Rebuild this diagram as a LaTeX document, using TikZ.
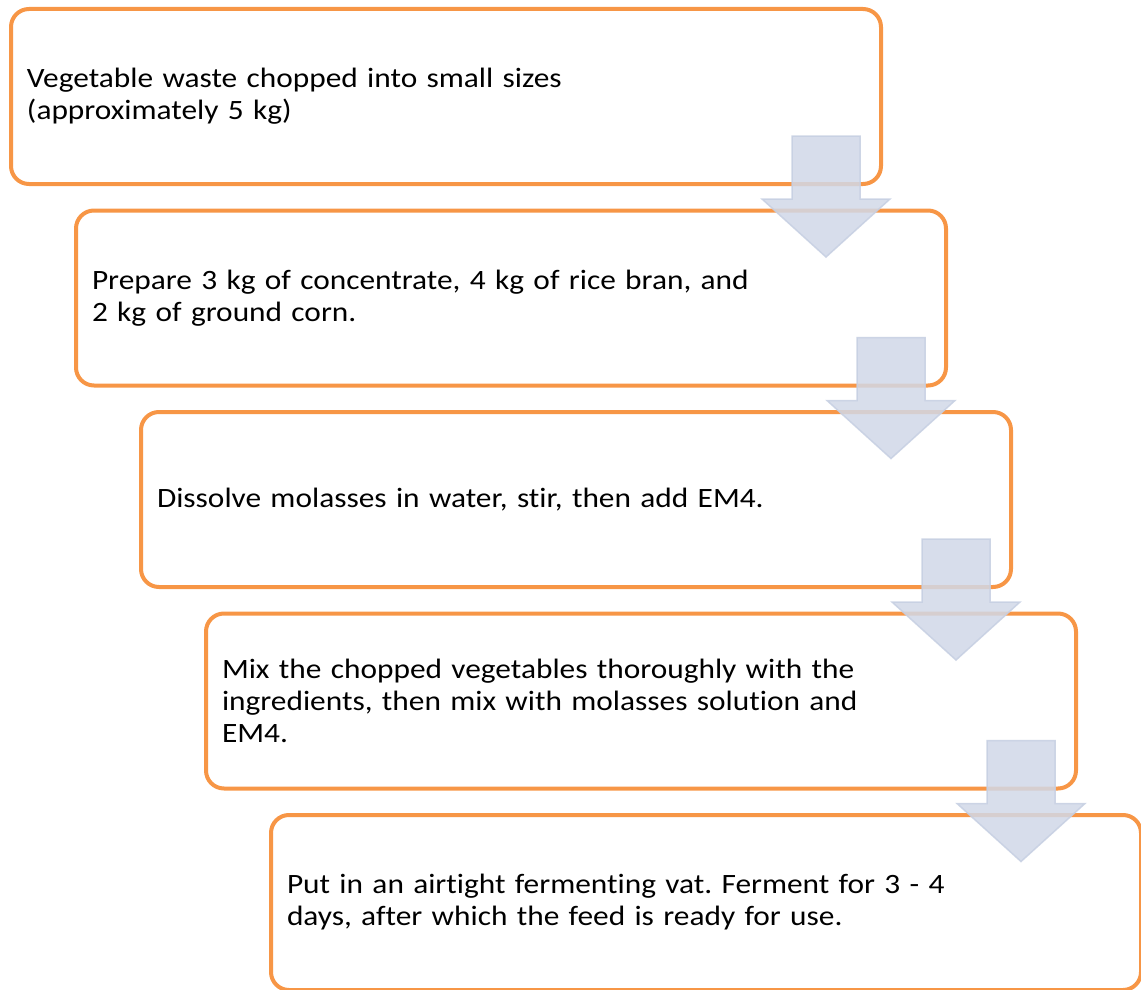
\documentclass[tikz,border=0pt]{standalone}
\usepackage{fontspec}
\setmainfont{Carlito}[Ligatures=NoCommon, FakeStretch=1.12]
\usetikzlibrary{calc}
\definecolor{boxorange}{RGB}{247,150,70}
\definecolor{arrowfill}{RGB}{209,216,232}
\definecolor{arrowline}{RGB}{198,207,226}

\begin{document}
\frenchspacing
\begin{tikzpicture}[x=1pt, y=-1pt,
  stepbox/.style={draw=boxorange, line width=4pt, rounded corners=18pt, fill=white,
    anchor=north west, text width=838pt, align=left, inner xsep=16pt, inner ysep=0pt,
    minimum height=175pt, font=\fontsize{28}{32}\selectfont},
  blockarrow/.style={fill=arrowfill, draw=arrowline, line width=1.5pt, fill opacity=0.85, draw opacity=0.85}]
\useasboundingbox (0,0) rectangle (1141,990);
% Draw boxes
\node[stepbox] (s1) at (9,7) {Vegetable waste chopped into small sizes\\(approximately 5 kg)};
\node[stepbox] (s2) at (74,208.5) {Prepare 3 kg of concentrate, 4 kg of rice bran, and\\2 kg of ground corn.};
\node[stepbox] (s3) at (139,410) {Dissolve molasses in water, stir, then add EM4.};
\node[stepbox] (s4) at (204,611.5) {Mix the chopped vegetables thoroughly with the\\ingredients, then mix with molasses solution and\\EM4.};
\node[stepbox] (s5) at (269,813) {Put in an airtight fermenting vat. Ferment for 3 - 4\\days, after which the feed is ready for use.};
% Draw arrows
\foreach \a in {s1,s2,s3,s4}{
  \draw[blockarrow] ($(\a.south east)+(-91,-50)$) -- ++(68,0) -- ++(0,63) -- ++(30,0)
    -- ++(-64,58) -- ++(-64,-58) -- ++(30,0) -- cycle;
}
\end{tikzpicture}
\end{document}
